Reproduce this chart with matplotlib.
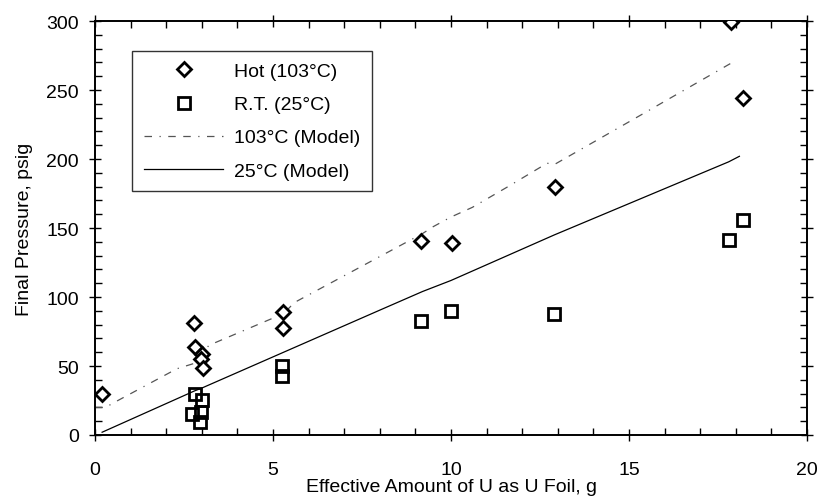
import matplotlib
matplotlib.use("Agg")
import matplotlib.pyplot as plt
from matplotlib.ticker import MultipleLocator

plt.rcParams['font.family'] = ['Liberation Sans', 'DejaVu Sans']

# measured data, hot runs (103 C)
hot_x = [0.2, 2.78, 2.8, 3.0, 2.98, 3.03, 5.28, 5.28, 9.16, 10.03, 12.92, 17.87, 18.2]
hot_y = [29.7, 81, 64, 59, 55, 48.5, 89, 77.5, 140.6, 139, 179.7, 299, 244]

# measured data, room temperature (25 C)
rt_x = [2.8, 3.0, 2.72, 2.98, 2.95, 5.25, 5.25, 9.15, 10.0, 12.9, 17.8, 18.2]
rt_y = [30, 25, 15, 17, 9.4, 50, 43, 82.6, 90, 88, 141, 156]

# model curves
model_hot_x = [0.0, 0.3, 0.5, 2.3, 2.8, 3.2, 5.3, 5.6, 9.2, 9.5, 10.0, 10.6, 11.6, 12.7, 12.9, 15.0, 17.9]
model_hot_y = [20, 20, 23, 48, 52, 65, 88, 96, 146, 151, 158, 165, 180, 197, 196, 227, 270]
model_rt_x = [0.2, 2.8, 3.0, 5.3, 8.0, 9.2, 10.0, 12.9, 17.8, 18.1]
model_rt_y = [2, 32, 34, 60, 90.5, 104, 112, 145, 198, 202]

fig = plt.figure(figsize=(8.21, 5.02), dpi=100)
ax = fig.add_axes([0.1157, 0.1315, 0.983 - 0.1157, 0.956 - 0.1315])

ax.plot(hot_x, hot_y, linestyle='none', marker='D', ms=7, mfc='white',
        mec='black', mew=2, label='Hot (103°C)', zorder=3)
ax.plot(rt_x, rt_y, linestyle='none', marker='s', ms=8.5, mfc='none',
        mec='black', mew=2, label='R.T. (25°C)', zorder=3)
ax.plot(model_hot_x, model_hot_y, color='#555555', lw=0.9,
        linestyle=(0, (6, 6, 1, 6, 6, 6)), label='103°C (Model)')
ax.plot(model_rt_x, model_rt_y, color='black', lw=0.9, label='25°C (Model)')

ax.set_xlim(0, 20)
ax.set_ylim(0, 300)
ax.xaxis.set_major_locator(MultipleLocator(5))
ax.xaxis.set_minor_locator(MultipleLocator(1))
ax.yaxis.set_major_locator(MultipleLocator(50))
ax.yaxis.set_minor_locator(MultipleLocator(10))
ax.tick_params(which='major', direction='inout', length=9, width=1,
               top=True, right=True, labelsize=14, pad=7)
ax.tick_params(axis='x', which='major', pad=14)
ax.tick_params(which='minor', direction='in', length=5, width=1,
               top=True, right=True)
for s in ax.spines.values():
    s.set_linewidth(1.4)

ax.set_xlabel('Effective Amount of U as U Foil, g', fontsize=14, labelpad=0)
ax.set_ylabel('Final Pressure, psig', fontsize=14, labelpad=10)

leg = ax.legend(loc='upper left', bbox_to_anchor=(0.052, 0.928), fontsize=14,
                frameon=True, fancybox=False, edgecolor='black',
                handlelength=4.1, labelspacing=0.8, borderpad=0.6,
                handletextpad=0.55, borderaxespad=0)
leg.get_frame().set_linewidth(1.0)

fig.savefig('out.png', dpi=100)
